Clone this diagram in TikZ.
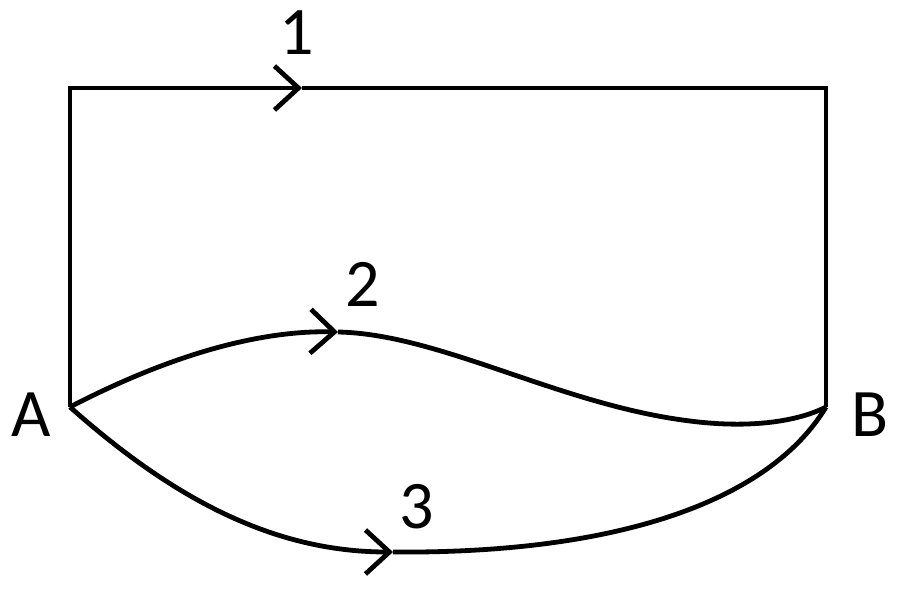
\documentclass[tikz,border=0pt]{standalone}
\usepackage{fontspec}
\setmainfont{Carlito}
\usepackage{tikz}
\usetikzlibrary{positioning, arrows.meta}

\begin{document}
\begin{tikzpicture} [x=1pt, y=-1pt]
    \tikzset{
      wire/.style={draw=black, line width=4.8pt, line join=miter},
      flow/.style={wire, -{Straight Barb[length=24pt, width=44pt, line width=4.8pt]}},
      lab/.style={font=\fontsize{68}{80}\selectfont, inner sep=0pt}
    }
    \useasboundingbox (0,0) rectangle (900,590);

    \coordinate (ptA) at (70,407);
    \coordinate (ptB) at (826,407);
    \coordinate (tl)  at (70,88);
    \coordinate (tr)  at (826,88);
    \coordinate (m1)  at (302,88);
    \coordinate (m2)  at (338,332);
    \coordinate (m3)  at (393,552);

    \node[lab] (labA) at (31,415) {A};
    \node[lab] (labB) at (870,415) {B};
    \node[lab] (lab1) at (297,33) {1};
    \node[lab] (lab2) at (363,284) {2};
    \node[lab] (lab3) at (417,507) {3};

    % path 1
    \draw[flow] (ptA) -- (tl) -- (m1);
    \draw[wire] (m1) -- (tr) -- (ptB);
    % path 2
    \draw[flow] (ptA) .. controls (170,355) and (260,330) .. (m2);
    \draw[wire] (m2) .. controls (440,334) and (560,405) .. (690,421)
                     .. controls (760,430) and (805,418) .. (ptB);
    % path 3
    \draw[flow] (ptA) .. controls (180,505) and (280,552) .. (m3);
    \draw[wire] (m3) .. controls (620,554) and (770,500) .. (ptB);
\end{tikzpicture}
\end{document}
